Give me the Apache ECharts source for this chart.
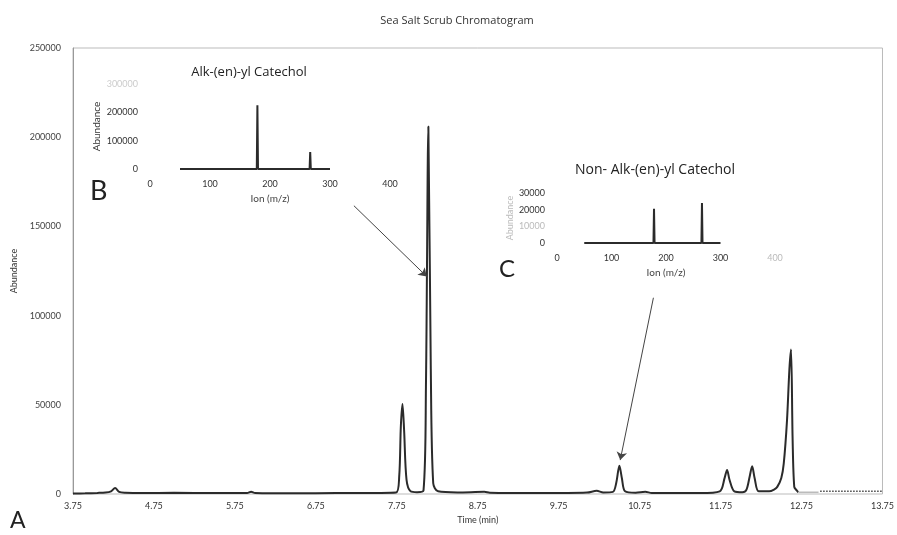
<!DOCTYPE html>
<html>
<head>
<meta charset="utf-8">
<script src="https://cdn.jsdelivr.net/npm/echarts@6/dist/echarts.min.js"></script>
<style>
  html, body { margin: 0; padding: 0; background: #fff; }
  #main { width: 897px; height: 535px; }
</style>
</head>
<body>
<div id="main"></div>
<script>
var chartDom = document.getElementById('main');
var myChart = echarts.init(chartDom);
var option;

// chromatogram: [time (min), abundance]
var chromatogram = [
  [3.75, 300], [3.9, 400], [4.05, 600], [4.15, 800], [4.22, 1500], [4.27, 3400],
  [4.32, 1200], [4.4, 700], [4.6, 500], [5.0, 700], [5.5, 500], [5.9, 600],
  [5.95, 1300], [6.0, 600], [6.5, 400], [7.0, 500], [7.5, 600], [7.74, 800],
  [7.78, 10000], [7.8, 38000], [7.82, 50500], [7.84, 36000], [7.87, 8000],
  [7.92, 1500], [8.0, 1000], [8.08, 2000], [8.11, 60000], [8.14, 206000],
  [8.17, 70000], [8.2, 6000], [8.26, 1500], [8.5, 900], [8.83, 1200], [8.9, 700],
  [9.5, 500], [10.1, 800], [10.22, 1800], [10.3, 900], [10.42, 1200],
  [10.46, 6000], [10.5, 15800], [10.53, 9000], [10.57, 1500], [10.7, 700],
  [10.82, 1200], [10.9, 600], [11.5, 500], [11.74, 1500], [11.8, 9000],
  [11.83, 13500], [11.86, 8000], [11.92, 1500], [12.02, 1000], [12.07, 2500],
  [12.11, 10000], [12.14, 15500], [12.17, 9000], [12.22, 1500], [12.35, 1500],
  [12.41, 2500], [12.45, 4000], [12.5, 9000], [12.53, 17000], [12.57, 41000],
  [12.6, 70000], [12.62, 81000], [12.64, 30000], [12.66, 4000], [12.69, 2000], [12.71, 1000]
];
var chromTail = [[12.71, 1000], [12.96, 1000]];
var chromEnd = [[12.98, 1600], [13.75, 1600]];

var xTickLabels = [3.75, 4.75, 5.75, 6.75, 7.75, 8.75, 9.75, 10.75, 11.75, 12.75, 13.75];

// inset B spectrum: [m/z, abundance]
var spectrumB = [
  [50, 0], [178, 0], [179, 225000], [180, 0], [266, 0], [267, 60000], [268, 0], [300, 0]
];
// inset C spectrum
var spectrumC = [
  [50, 0], [177, 0], [178, 20500], [179, 0], [265, 0], [266, 24000], [267, 0], [300, 0]
];

var fontFam = 'Lato, "Open Sans", sans-serif';
var titleFam = '"Open Sans", Lato, sans-serif';

function insetX(gridIndex) {
  return {
    type: 'value', gridIndex: gridIndex, min: 0, max: 400, interval: 100,
    name: 'Ion (m/z)', nameLocation: 'middle', nameGap: 25,
    nameTextStyle: { fontSize: 10, color: '#444', fontFamily: fontFam },
    axisLine: { show: false }, axisTick: { show: false }, splitLine: { show: false },
    axisLabel: {
      fontSize: 9, color: '#333', fontFamily: fontFam, margin: 11,
      formatter: function (v) { return v === 400 && gridIndex === 2 ? '{f|400}' : String(v); },
      rich: { f: { color: '#bbb', fontSize: 9 } }
    }
  };
}

option = {
  backgroundColor: '#fff',
  textStyle: { fontFamily: fontFam },
  title: [
    {
      text: 'Sea Salt Scrub Chromatogram', left: 452, top: 10, textAlign: 'center',
      textStyle: { fontSize: 11, fontWeight: 'normal', color: '#333', fontFamily: titleFam }
    },
    {
      text: 'Alk-(en)-yl Catechol', left: 244, top: 61, textAlign: 'center',
      textStyle: { fontSize: 13, fontWeight: 'normal', color: '#222', fontFamily: titleFam }
    },
    {
      text: 'Non- Alk-(en)-yl Catechol', left: 650, top: 158, textAlign: 'center',
      textStyle: { fontSize: 14, fontWeight: 'normal', color: '#222', fontFamily: titleFam }
    }
  ],
  graphic: [
    { type: 'text', left: 10, top: 509, style: { text: 'A', fontSize: 23, fill: '#222', fontFamily: fontFam } },
    { type: 'text', left: 90, top: 178, style: { text: 'B', fontSize: 27, fill: '#222', fontFamily: fontFam } },
    { type: 'text', left: 499, top: 257, style: { text: 'C', fontSize: 24, fill: '#222', fontFamily: fontFam } }
  ],
  grid: [
    { left: 73, right: 13, top: 48, bottom: 41, show: true, borderColor: '#bbb', borderWidth: 1 },
    { left: 150, width: 240, top: 84, height: 85 },
    { left: 557, width: 218, top: 193, height: 50 }
  ],
  xAxis: [
    {
      type: 'value', gridIndex: 0, min: 3.75, max: 13.75,
      name: 'Time (min)', nameLocation: 'middle', nameGap: 22,
      nameTextStyle: { fontSize: 9, color: '#333', fontFamily: fontFam },
      axisLine: { show: false }, axisTick: { show: false }, splitLine: { show: false },
      axisLabel: {
        customValues: xTickLabels, fontSize: 9, color: '#333', margin: 8,
        fontFamily: fontFam, formatter: function (v) { return v.toFixed(2); }
      }
    },
    insetX(1),
    insetX(2)
  ],
  yAxis: [
    {
      type: 'value', gridIndex: 0, min: 0, max: 250000, interval: 50000,
      name: 'Abundance', nameLocation: 'middle', nameGap: 52,
      nameTextStyle: { fontSize: 9, color: '#333', fontFamily: fontFam },
      axisLine: { show: true, lineStyle: { color: '#999' } },
      axisTick: { show: false }, splitLine: { show: false },
      axisLabel: {
        fontSize: 9, color: '#444', fontFamily: fontFam, margin: 12,
        formatter: function (v) { return String(v); }
      }
    },
    {
      type: 'value', gridIndex: 1, min: 0, max: 300000, interval: 100000,
      name: 'Abundance', nameLocation: 'middle', nameGap: 48,
      nameTextStyle: { fontSize: 10, color: '#333', fontFamily: fontFam },
      axisLine: { show: false }, axisTick: { show: false }, splitLine: { show: false },
      axisLabel: {
        fontSize: 9, color: '#333', fontFamily: fontFam, margin: 12,
        formatter: function (v) { return v === 300000 ? '{f|300000}' : String(v); },
        rich: { f: { color: '#ccc', fontSize: 9 } }
      }
    },
    {
      type: 'value', gridIndex: 2, min: 0, max: 30000, interval: 10000,
      name: 'Abundance', nameLocation: 'middle', nameGap: 42,
      nameTextStyle: { fontSize: 9, color: '#bbb', fontFamily: fontFam },
      axisLine: { show: false }, axisTick: { show: false }, splitLine: { show: false },
      axisLabel: {
        fontSize: 9, color: '#333', fontFamily: fontFam, margin: 12,
        formatter: function (v) { return v === 10000 ? '{f|10000}' : String(v); },
        rich: { f: { color: '#bbb', fontSize: 9 } }
      }
    }
  ],
  series: [
    {
      name: 'chromatogram', type: 'line', xAxisIndex: 0, yAxisIndex: 0,
      data: chromatogram, symbol: 'none', smooth: 0.3,
      lineStyle: { color: '#2b2b2b', width: 2 },
      markLine: {
        silent: true, symbol: ['none', 'arrow'], symbolSize: 8,
        label: { show: false },
        lineStyle: { color: '#444', width: 1, type: 'solid' },
        data: [
          [{ coord: [7.22, 161600] }, { coord: [8.12, 121900] }],
          [{ coord: [10.92, 110000] }, { coord: [10.51, 19000] }]
        ]
      }
    },
    {
      name: 'tail', type: 'line', xAxisIndex: 0, yAxisIndex: 0,
      data: chromTail, symbol: 'none',
      lineStyle: { color: '#bbb', width: 1.5 }
    },
    {
      name: 'end', type: 'line', xAxisIndex: 0, yAxisIndex: 0,
      data: chromEnd, symbol: 'none',
      lineStyle: { color: '#444', width: 1.5, type: 'dotted' }
    },
    {
      name: 'spectrumB', type: 'line', xAxisIndex: 1, yAxisIndex: 1,
      data: spectrumB, symbol: 'none',
      lineStyle: { color: '#2b2b2b', width: 2 }
    },
    {
      name: 'spectrumC', type: 'line', xAxisIndex: 2, yAxisIndex: 2,
      data: spectrumC, symbol: 'none',
      lineStyle: { color: '#2b2b2b', width: 2 }
    }
  ]
};

option && myChart.setOption(option);
</script>
</body>
</html>
